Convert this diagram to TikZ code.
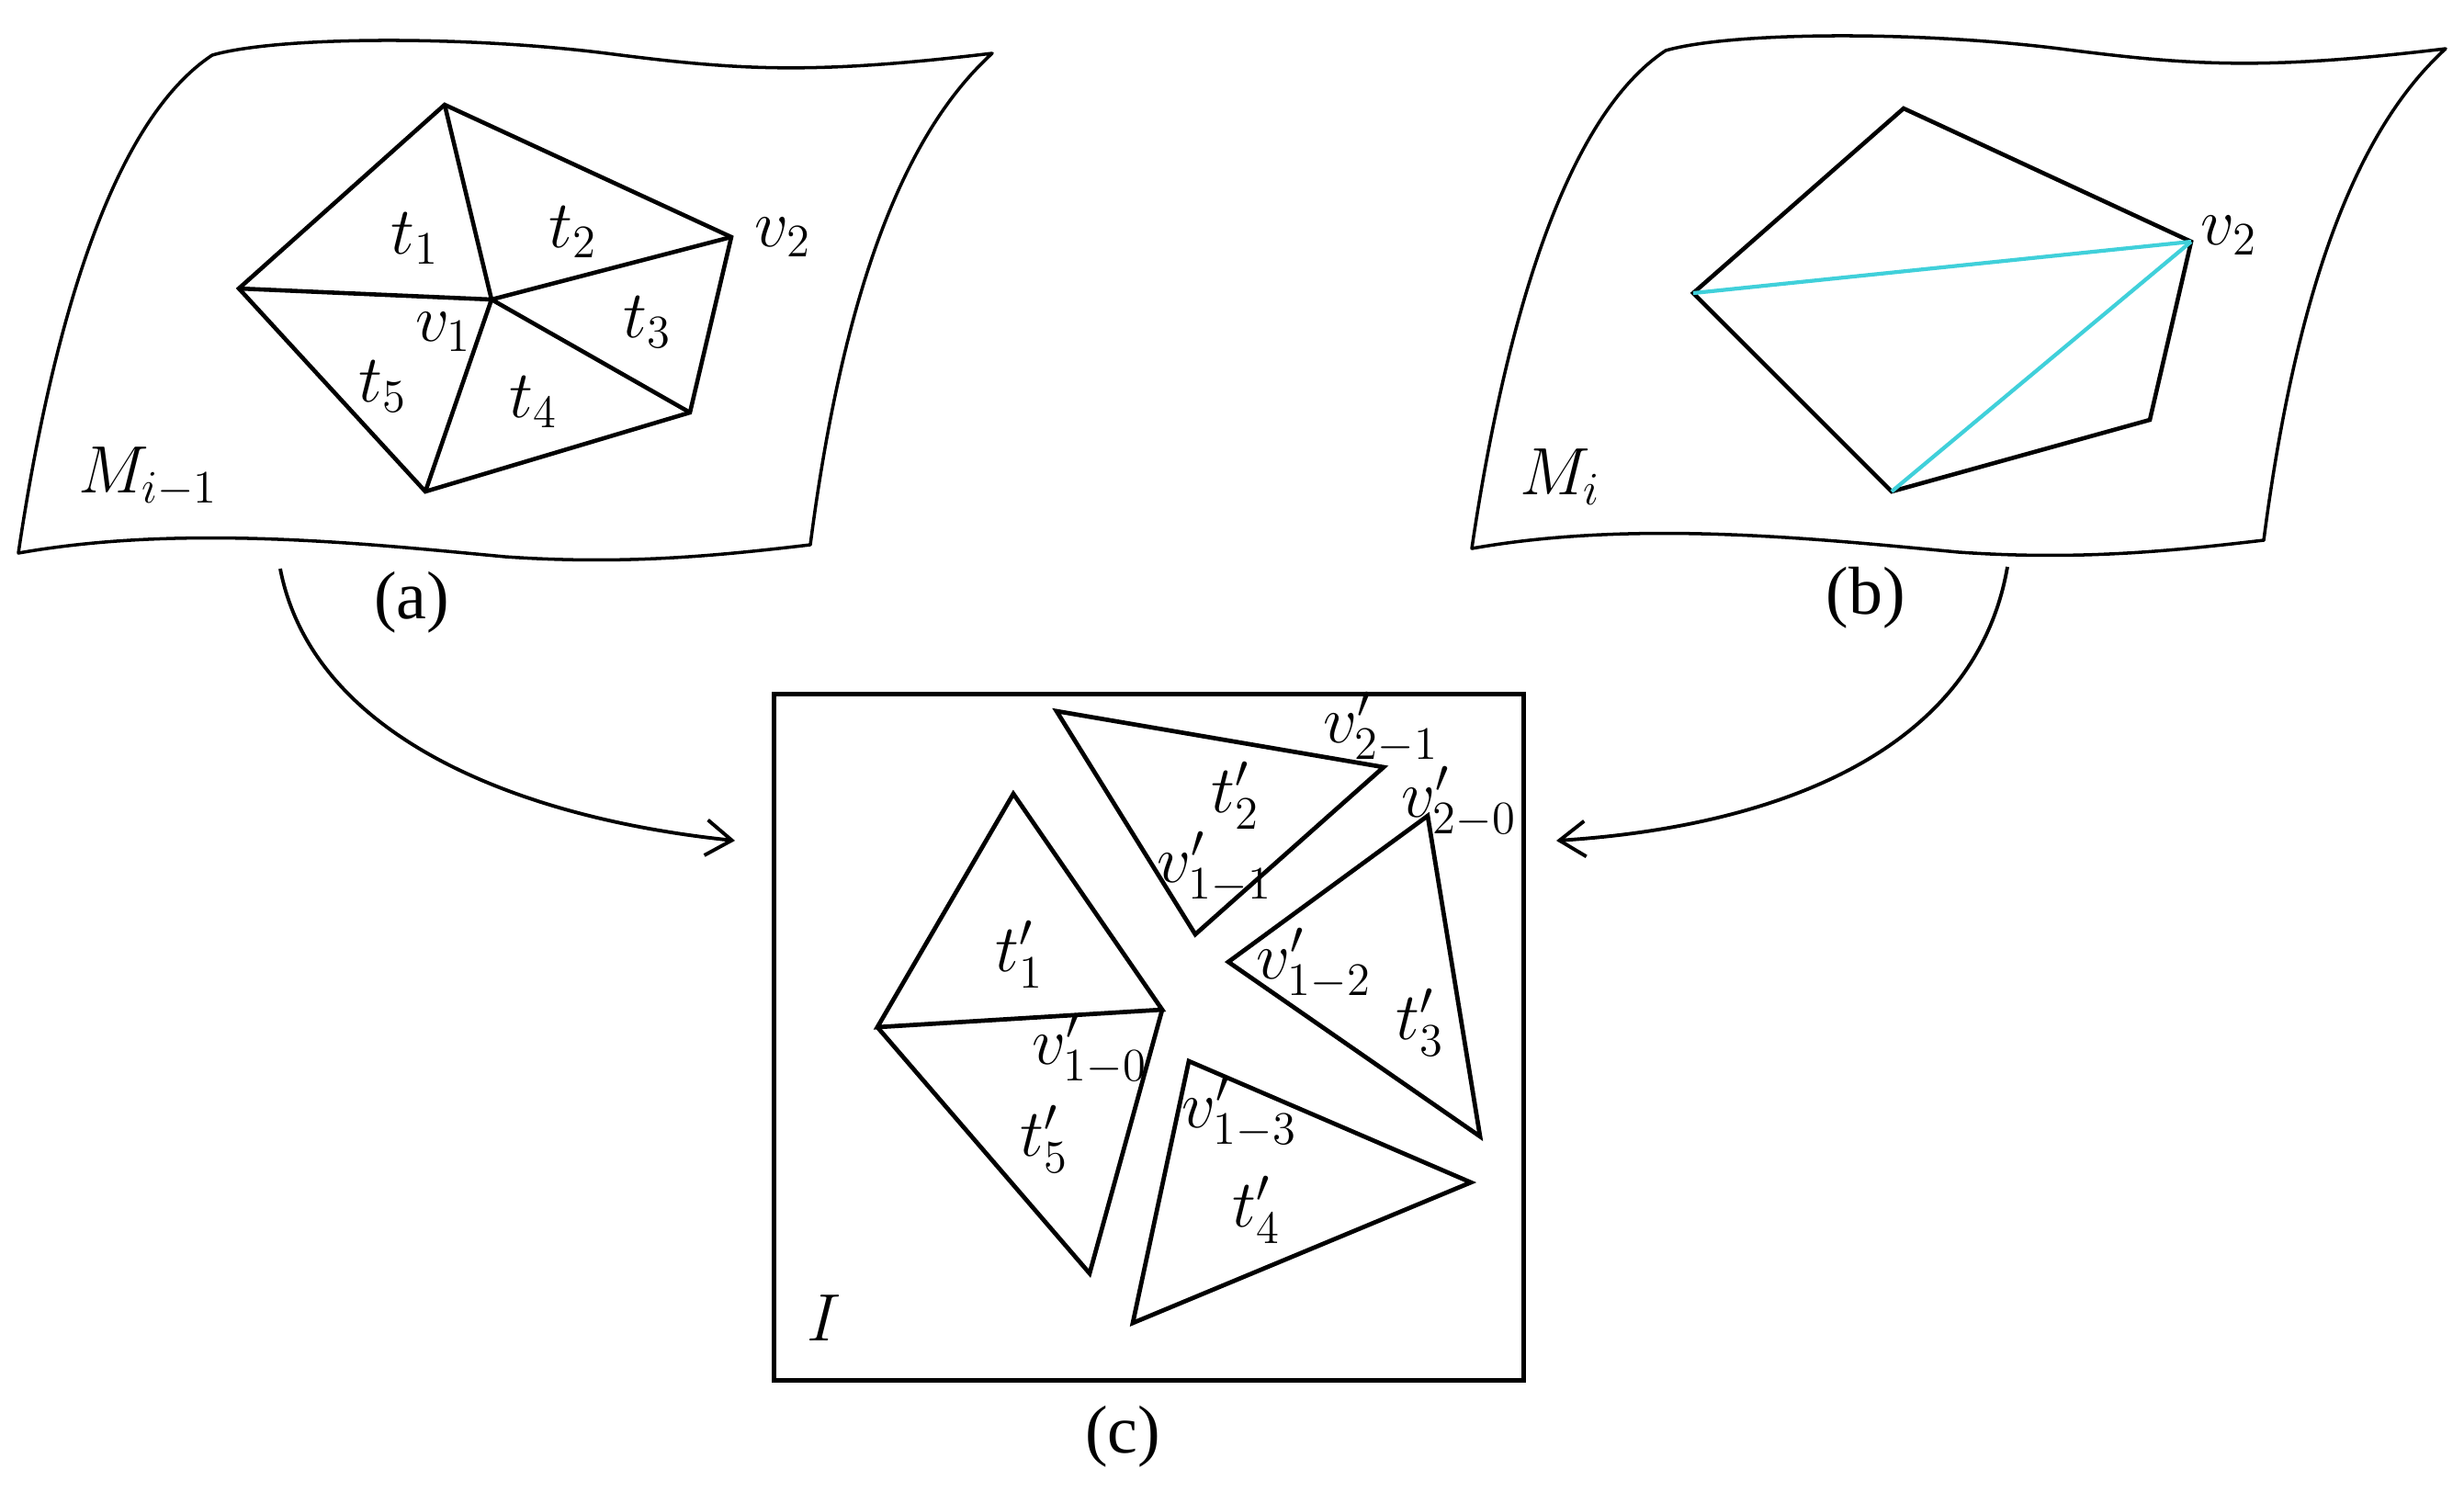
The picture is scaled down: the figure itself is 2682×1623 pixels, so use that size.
\documentclass[tikz,border=0pt]{standalone}
\usepackage{fontspec}
\setmainfont{Liberation Serif}
\usetikzlibrary{arrows.meta}
\definecolor{cyanedge}{RGB}{64,208,218}
\begin{document}
\begin{tikzpicture}[x=0.01cm,y=-0.01cm,
  sheet/.style={line width=1pt,line join=round},
  mesh/.style={line width=1.3pt,line join=miter},
  cyanline/.style={draw=cyanedge,line width=1.2pt},
  piece/.style={line width=1.35pt,line join=miter},
  frame/.style={line width=1.5pt},
  lab/.style={font=\fontsize{22}{26}\selectfont,inner sep=0pt},
  captxt/.style={font=\fontsize{21}{25}\selectfont,inner sep=0pt},
  flow/.style={line width=1.1pt,-{Straight Barb[length=8pt,width=11pt,line width=1.1pt]}}
]
\useasboundingbox (0,0) rectangle (2682,1623);

% ---------- sheets ----------
\foreach \dx/\dy in {0/0,1582/-5}{
  \begin{scope}[shift={(\dx,\dy)}]
    \draw[sheet] (231,60) .. controls (300,40) and (500,38) .. (660,58)
      .. controls (800,76) and (880,82) .. (1080,58)
      .. controls (990,140) and (920,300) .. (882,593)
      .. controls (780,605) and (680,615) .. (550,606)
      .. controls (400,592) and (200,570) .. (20,602)
      .. controls (50,400) and (110,140) .. (231,60) -- cycle;
  \end{scope}
}

% ---------- (a) mesh ----------
\coordinate (a1) at (484,114);
\coordinate (a2) at (796,258);
\coordinate (a3) at (751,449);
\coordinate (a4) at (463,535);
\coordinate (a5) at (260,314);
\coordinate (av) at (535,326);
\draw[mesh] (a1)--(a2)--(a3)--(a4)--(a5)--cycle;
\draw[mesh] (av)--(a1) (av)--(a2) (av)--(a3) (av)--(a4) (av)--(a5);

\node[lab] (lt1) at (452,260) {$t_1$};
\node[lab] (lt2) at (624,253) {$t_2$};
\node[lab] (lv2a) at (852,258) {$v_2$};
\node[lab] (lv1) at (483,361) {$v_1$};
\node[lab] (lt3) at (705,351) {$t_3$};
\node[lab] (lt5) at (417,421) {$t_5$};
\node[lab] (lt4) at (581,438) {$t_4$};
\node[lab] (lMa) at (161,519) {$M_{i-1}$};
\node[captxt] (capa) at (448,656) {(a)};

% ---------- (b) mesh ----------
\coordinate (b1) at (2072,118);
\coordinate (b2) at (2385,263);
\coordinate (b3) at (2340,457);
\coordinate (b4) at (2059,535);
\coordinate (b5) at (1843,319);
\draw[mesh] (b1)--(b2)--(b3)--(b4)--(b5)--cycle;
\draw[cyanline] (b5)--(b2) (b4)--(b2);

\node[lab] (lv2b) at (2426,256) {$v_2$};
\node[lab] (lMb) at (1698,519) {$M_{i}$};
\node[captxt] (capb) at (2031,651) {(b)};

% ---------- (c) image ----------
\node[frame,draw,minimum width=8.15cm,minimum height=7.46cm,inner sep=0pt] (box) at (1250.5,1129) {};
\coordinate (c1a) at (1103,864);
\coordinate (c1b) at (955,1118);
\coordinate (c1c) at (1265,1099);
\coordinate (c5c) at (1186,1386);
\coordinate (c2a) at (1150,774);
\coordinate (c2b) at (1506,835);
\coordinate (c2c) at (1301,1017);
\coordinate (c3a) at (1554,888);
\coordinate (c3b) at (1337,1047);
\coordinate (c3c) at (1611,1237);
\coordinate (c4a) at (1294,1155);
\coordinate (c4b) at (1601,1287);
\coordinate (c4c) at (1233,1440);
\draw[piece] (c1a)--(c1b)--(c1c)--cycle;
\draw[piece] (c1b)--(c5c)--(c1c);
\draw[piece] (c2a)--(c2b)--(c2c)--cycle;
\draw[piece] (c3a)--(c3b)--(c3c)--cycle;
\draw[piece] (c4a)--(c4b)--(c4c)--cycle;

\node[lab] (ct1) at (1110,1039) {$t'_1$};
\node[lab] (cv10) at (1186,1142) {$v'_{1-0}$};
\node[lab] (ct5) at (1137,1240) {$t'_5$};
\node[lab] (ct2) at (1345,866) {$t'_2$};
\node[lab] (cv11) at (1322,944) {$v'_{1-1}$};
\node[lab] (cv21) at (1503,792) {$v'_{2-1}$};
\node[lab] (cv20) at (1588,873) {$v'_{2-0}$};
\node[lab] (cv12) at (1430,1049) {$v'_{1-2}$};
\node[lab] (ct3) at (1546,1113) {$t'_3$};
\node[lab] (cv13) at (1349,1211) {$v'_{1-3}$};
\node[lab] (ct4) at (1368,1317) {$t'_4$};
\node[lab] (cI) at (897,1435) {$I$};
\node[captxt] (capc) at (1222,1564) {(c)};

% ---------- arrows ----------
\coordinate (arA0) at (305,619);
\coordinate (arA1) at (800,915);
\coordinate (arB0) at (2185,617);
\coordinate (arB1) at (1694,915);
\draw[flow] (arA0) .. controls (340,800) and (560,890) .. (arA1);
\draw[flow] (arB0) .. controls (2150,820) and (1930,900) .. (arB1);
\end{tikzpicture}
\end{document}
